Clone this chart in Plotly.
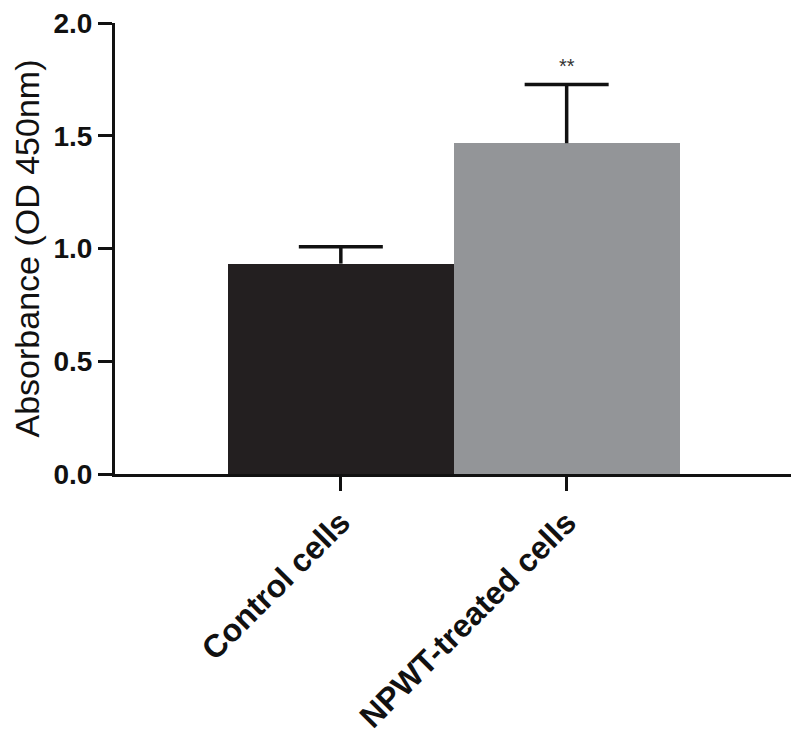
import plotly.graph_objects as go

groups = ["Control cells", "NPWT-treated cells"]
means = [0.933, 1.467]
sems = [0.075, 0.26]
bar_colors = ["#231f20", "#939598"]
signif = ["", "**"]

tops = [m + s for m, s in zip(means, sems)]

fig = go.Figure()
fig.add_trace(go.Bar(x=groups, y=means, marker=dict(color=bar_colors, line=dict(width=0)),
                     width=1.0, showlegend=False))
# upper error bars only: stem from the top of the bar, cap at the end
fig.add_trace(go.Scatter(x=groups, y=tops, mode="markers", showlegend=False,
                         marker=dict(symbol="line-ew-open", size=60, color="#111",
                                     line=dict(width=3.5, color="#111")),
                         error_y=dict(type="data", symmetric=False, array=[0, 0], arrayminus=sems,
                                      width=0, thickness=3.5, color="#111")))

for g, t, s in zip(groups, tops, signif):
    if s:
        fig.add_annotation(x=g, y=t, text=s, showarrow=False, yshift=19,
                           font=dict(size=20, color="#333", family="Arial"))

# page body has an 8px margin, so the figure is a bit smaller than the window
fig.update_xaxes(type="category", range=[-1, 2.02], showline=True, linewidth=3, linecolor="#111",
                 ticks="outside", ticklen=14, tickwidth=3, tickcolor="#111", tickangle=-45,
                 tickfont=dict(family="Liberation Sans", size=32, color="#111", weight="bold"),
                 showgrid=False, zeroline=False, automargin=False, ticklabeloverflow="allow")
fig.update_yaxes(range=[0, 2.0], tickvals=[0, 0.5, 1.0, 1.5, 2.0], tickformat=".1f",
                 showline=True, linewidth=3, linecolor="#111",
                 ticks="outside", ticklen=14, tickwidth=3, tickcolor="#111",
                 tickfont=dict(family="Liberation Sans", size=28, color="#111", weight="bold"),
                 title=dict(text="Absorbance (OD 450nm)", standoff=14,
                            font=dict(family="Liberation Sans", size=34, color="#111")),
                 showgrid=False, zeroline=False, automargin=False, ticklabeloverflow="allow")
fig.update_layout(width=791, height=733, plot_bgcolor="white", paper_bgcolor="white",
                  margin=dict(l=107, r=2, t=15, b=267), bargap=0)

fig.write_html("out.html")
